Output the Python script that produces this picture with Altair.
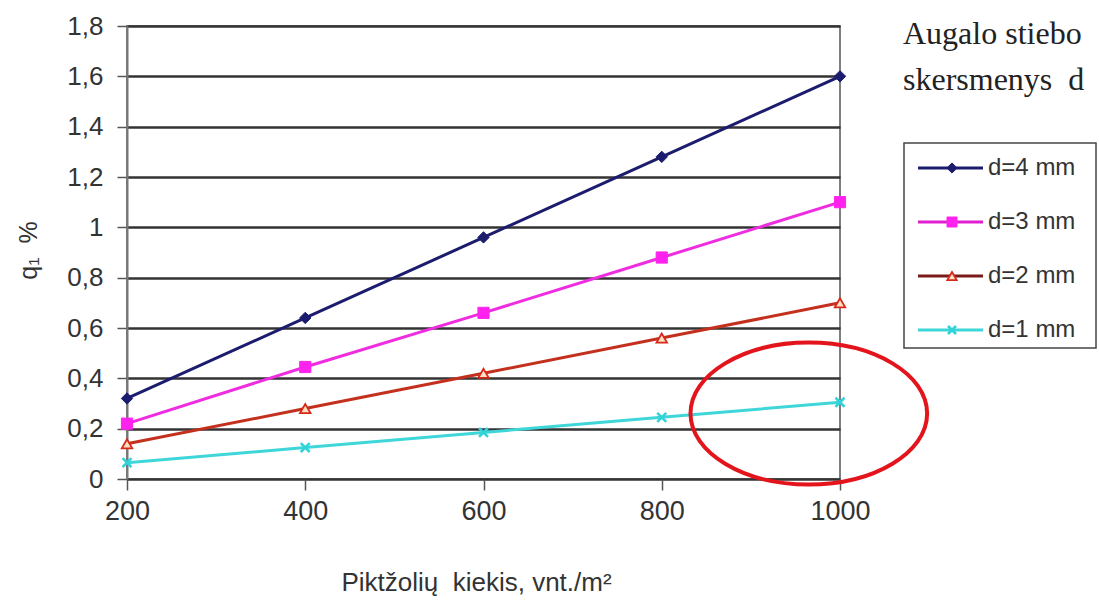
import altair as alt
import pandas as pd

# Weed density on the x axis (plants per m²)
weed_counts = [200, 400, 600, 800, 1000]

# Crop stem diameters, one series each
series_names = ["d=4 mm", "d=3 mm", "d=2 mm", "d=1 mm"]

# q1, % for each stem diameter
q_d4 = [0.32, 0.64, 0.96, 1.28, 1.60]
q_d3 = [0.22, 0.445, 0.66, 0.88, 1.10]
q_d2 = [0.14, 0.28, 0.42, 0.56, 0.70]
q_d1 = [0.065, 0.125, 0.185, 0.245, 0.305]

y_ticks = [0, 0.2, 0.4, 0.6, 0.8, 1.0, 1.2, 1.4, 1.6, 1.8]

# Centre of the red ring that highlights the d=1 mm end point
highlight_x = 965
highlight_y = 0.26

NBSP = "\u00a0"
heading_lines = ["Augalo stiebo", "skersmenys" + NBSP + " d"]
x_title = "Piktžolių" + NBSP + " kiekis, vnt./m²"
y_title = "q₁" + NBSP + " %"

series_values = [q_d4, q_d3, q_d2, q_d1]

X_PATH = "M -1 -1 L 1 1 M -1 1 L 1 -1"
ELLIPSE_PATH = "M -1 0 A 1 0.6 0 1 0 1 0 A 1 0.6 0 1 0 -1 0 Z"

styles = [
    dict(line="#1c1c6e", legend_line="#1c1c6e", shape="diamond", fill="#1c1c6e", stroke="#1c1c6e", size=130, sw=1),
    dict(line="#f02ce0", legend_line="#e020d0", shape="square", fill="#ff22ee", stroke="#ff22ee", size=125, sw=1),
    dict(line="#c4301e", legend_line="#7a1a1a", shape="triangle-up", fill="#ffe0c0", stroke="#d8281a", size=110, sw=1.8),
    dict(line="#3ed6d8", legend_line="#3ed6d8", shape=X_PATH, fill="transparent", stroke="#30d4d8", size=80, sw=2.6),
]

FONT = "Liberation Sans"
TEXT = "#333333"

x_enc = alt.X(
    "x:Q",
    scale=alt.Scale(domain=[200, 1000], nice=False, zero=False),
    axis=alt.Axis(
        values=weed_counts,
        format="d",
        grid=False,
        domain=False,
        ticks=True,
        tickSize=11,
        tickColor="#555555",
        tickWidth=1.5,
        labelFont=FONT,
        labelFontSize=27,
        labelColor=TEXT,
        labelPadding=8,
        labelFlush=False,
        labelOverlap=False,
        title=x_title,
        titleFont=FONT,
        titleFontSize=26,
        titleFontWeight="normal",
        titleColor=TEXT,
        titleX=349,
        titleY=111,
        titleAlign="center",
        titleBaseline="alphabetic",
    ),
)

y_enc = alt.Y(
    "q:Q",
    scale=alt.Scale(domain=[0, 1.8], nice=False),
    axis=alt.Axis(
        values=y_ticks,
        grid=True,
        gridColor="#333333",
        gridWidth=2.4,
        domain=True,
        domainColor="#777777",
        domainWidth=2,
        ticks=True,
        tickSize=10,
        tickColor="#555555",
        tickWidth=1.5,
        labelFont=FONT,
        labelFontSize=26,
        labelColor=TEXT,
        labelPadding=14,
        labelOverlap=False,
        labelExpr="replace(format(datum.value, '.1~f'), '.', ',')",
        title=y_title,
        titleFont=FONT,
        titleFontSize=25,
        titleFontWeight="normal",
        titleColor=TEXT,
        titleX=-99,
        titleY=224,
        titleAngle=270,
        titleAlign="center",
        titleBaseline="middle",
    ),
)

layers = []

# Data lines with their markers
for name, values, st in zip(series_names, series_values, styles):
    df = pd.DataFrame({"x": weed_counts, "q": values, "series": name})
    base = alt.Chart(df).encode(x=x_enc, y=y_enc)
    layers.append(base.mark_line(color=st["line"], strokeWidth=3))
    layers.append(
        base.mark_point(
            shape=st["shape"],
            filled=False,
            fill=st["fill"],
            stroke=st["stroke"],
            strokeWidth=st["sw"],
            size=st["size"],
            opacity=1,
        )
    )

one_row = alt.Data(values=[{}])

# Red ring drawn around the last d=1 mm point
layers.append(
    alt.Chart(one_row)
    .mark_point(
        shape=ELLIPSE_PATH,
        filled=False,
        stroke="#e3141c",
        strokeWidth=4,
        size=56000,
        opacity=1,
    )
    .encode(x=alt.datum(highlight_x), y=alt.datum(highlight_y))
)

# Heading to the right of the plot
for i, line in enumerate(heading_lines):
    layers.append(
        alt.Chart(one_row)
        .mark_text(
            text=line,
            font="Liberation Serif",
            fontSize=32,
            color="#222222",
            align="left",
            baseline="alphabetic",
        )
        .encode(x=alt.value(776), y=alt.value(18 + 46 * i))
    )

# Legend frame
layers.append(
    alt.Chart(one_row)
    .mark_rect(fill="white", stroke="#444444", strokeWidth=1.5)
    .encode(x=alt.value(777), x2=alt.value(969), y=alt.value(117), y2=alt.value(322))
)

# Legend entries
for i, (name, st) in enumerate(zip(series_names, styles)):
    row_y = 142 + 54 * i
    layers.append(
        alt.Chart(one_row)
        .mark_rule(color=st["legend_line"], strokeWidth=3)
        .encode(x=alt.value(791), x2=alt.value(856), y=alt.value(row_y))
    )
    layers.append(
        alt.Chart(one_row)
        .mark_point(
            shape=st["shape"],
            filled=False,
            fill=st["fill"],
            stroke=st["stroke"],
            strokeWidth=st["sw"],
            size=st["size"] * 0.8,
            opacity=1,
        )
        .encode(x=alt.value(825), y=alt.value(row_y))
    )
    layers.append(
        alt.Chart(one_row)
        .mark_text(
            text=name,
            font=FONT,
            fontSize=24,
            color=TEXT,
            align="left",
            baseline="middle",
        )
        .encode(x=alt.value(861), y=alt.value(row_y))
    )

chart = (
    alt.layer(*layers)
    .properties(
        width=713,
        height=453,
        autosize=alt.AutoSizeParams(type="none"),
        padding={"left": 127, "top": 26, "right": 259, "bottom": 121},
        background="white",
    )
    .configure_view(stroke="#555555", strokeWidth=1.5)
)

chart.save("out.html", embed_options={"renderer": "svg", "actions": False})
